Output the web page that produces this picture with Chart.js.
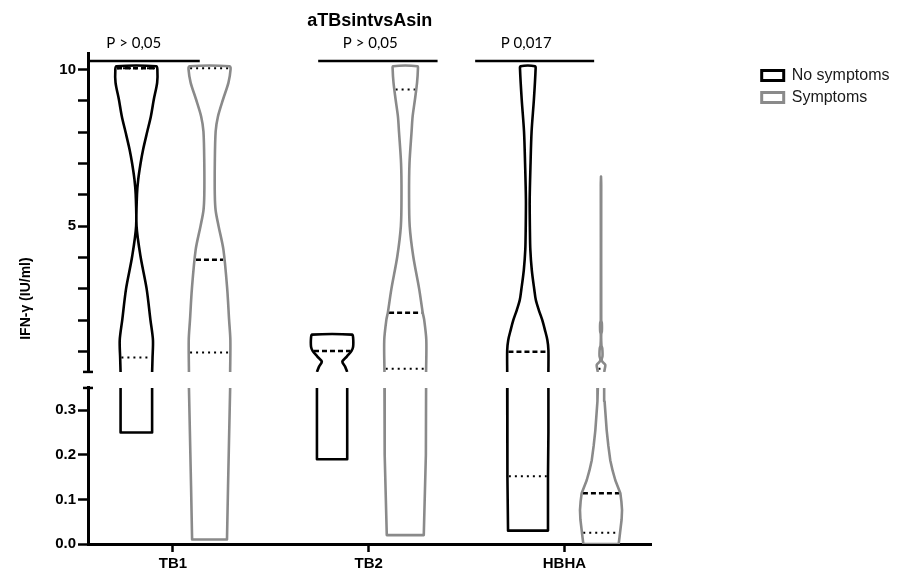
<!DOCTYPE html>
<html>
<head>
<meta charset="utf-8">
<title>aTBsintvsAsin</title>
<script src="https://cdn.jsdelivr.net/npm/chart.js@4.4.0/dist/chart.umd.min.js"></script>
<style>
    body { margin: 0; background: #fff; }
    #chart-container { width: 919px; height: 575px; }
</style>
</head>
<body>
<div id="chart-container"><canvas id="violin-chart" width="919" height="575"></canvas></div>
<script>
// Groups on the x axis and the two series
const groups = ['TB1', 'TB2', 'HBHA'];
const series = ['No symptoms', 'Symptoms'];

// Violin outlines, top to bottom: [IFN-γ (IU/ml), relative width]
const tb1No = [[10.1, 0.95], [10.0, 1.0], [9.58, 0.99], [9.04, 0.83], [8.5, 0.69], [8.02, 0.52], [7.44, 0.32], [7.0, 0.2], [6.49, 0.09], [6.0, 0.03], [5.0, 0.01], [4.03, 0.2], [3.0, 0.49], [2.01, 0.67], [1.37, 0.79], [0.8, 0.77], [0.35, 0.75], [0.25, 0.75]];
const tb1Sym = [[10.1, 0.96], [10.0, 1.0], [9.58, 0.9], [9.04, 0.64], [8.5, 0.4], [8.02, 0.29], [7.0, 0.25], [6.0, 0.25], [5.5, 0.29], [5.0, 0.43], [4.25, 0.66], [3.0, 0.84], [2.01, 0.93], [1.37, 0.99], [0.35, 0.98], [0.13, 0.88], [0.01, 0.83]];
const tb2No = [[1.54, 0.95], [1.45, 1.0], [1.15, 1.0], [1.02, 0.92], [0.84, 0.7], [0.68, 0.49], [0.52, 0.62], [0.35, 0.72], [0.19, 0.72]];
const tb2Sym = [[10.1, 0.58], [10.0, 0.6], [9.58, 0.56], [9.04, 0.46], [8.5, 0.35], [8.02, 0.3], [7.0, 0.2], [6.0, 0.18], [5.0, 0.21], [4.03, 0.38], [3.0, 0.66], [2.24, 0.83], [2.01, 0.9], [1.37, 1.0], [0.35, 0.99], [0.2, 0.98], [0.02, 0.88]];
const hbhaNo = [[10.1, 0.35], [10.0, 0.37], [9.04, 0.29], [8.02, 0.18], [7.0, 0.13], [5.85, 0.09], [4.9, 0.1], [4.25, 0.12], [3.6, 0.19], [2.97, 0.31], [2.65, 0.38], [2.33, 0.52], [2.0, 0.69], [1.7, 0.81], [1.37, 0.93], [1.05, 0.98], [0.35, 0.98], [0.25, 0.98], [0.15, 0.96], [0.03, 0.94]];
const hbhaSym = [[6.58, 0.0], [6.3, 0.01], [2.0, 0.01], [1.9, 0.04], [1.65, 0.04], [1.55, 0.01], [1.2, 0.02], [1.1, 0.06], [0.85, 0.07], [0.75, 0.03], [0.68, 0.06], [0.58, 0.2], [0.45, 0.18], [0.35, 0.15], [0.32, 0.17], [0.255, 0.27], [0.22, 0.35], [0.188, 0.44], [0.165, 0.55], [0.143, 0.68], [0.114, 0.92], [0.095, 0.97], [0.076, 1.0], [0.055, 0.98], [0.031, 0.92], [0.015, 0.88], [0.0, 0.84]];

// Medians (dashed) and quartiles (dotted), one per group
const medianNo = [10.04, 1.02, 0.99];
const medianSym = [3.93, 2.24, 0.114];
const q1No = [0.81, null, 0.152];
const q1Sym = [0.97, 0.45, 0.025];
const q3No = [10.04, null, null];
const q3Sym = [10.04, 9.36, 0.45];

// Significance bars
const pLabels = ['P > 0,05', 'P > 0,05', 'P 0,017'];
const pFrom = [0.566, 1.742, 2.544];
const pTo = [1.137, 2.352, 3.152];
const pTextAt = [0.8, 2.008, 2.805];
const pLevel = 10.27;

// Broken y axis
const axisBreak = 0.35;
const upperTicks = [1, 2, 3, 4, 5, 6, 7, 8, 9, 10];
const upperLabels = [5, 10];
const lowerTicks = [0, 0.1, 0.2, 0.3];

document.addEventListener('DOMContentLoaded', function() {
    const colors = ['#000000', '#8a8a8a'];
    const HALF = 0.1074;     // x units for a violin of relative width 1
    const OFFSET = 0.187;    // distance of each violin from the group centre
    const INSET = 0.0064;

    Chart.defaults.font.family = "'Liberation Sans', Arial, sans-serif";
    Chart.defaults.color = '#000';

    const profiles = [[tb1No, tb1Sym], [tb2No, tb2Sym], [hbhaNo, hbhaSym]];
    const medians = [medianNo, medianSym];
    const q1s = [q1No, q1Sym];
    const q3s = [q3No, q3Sym];

    // width of a violin at a value
    function widthAt(profile, v) {
        for (let i = 0; i < profile.length - 1; i++) {
            const [v0, d0] = profile[i];
            const [v1, d1] = profile[i + 1];
            if (v <= v0 && v >= v1) {
                return v0 === v1 ? Math.max(d0, d1) : d0 + (d1 - d0) * (v0 - v) / (v0 - v1);
            }
        }
        return 0;
    }

    // open outline: left side along part, then right side back
    function outline(part, c) {
        const left = part.map(([v, d]) => ({ x: c - d * HALF, y: v }));
        const right = part.map(([v, d]) => ({ x: c + d * HALF, y: v }));
        return left.concat(right.reverse());
    }

    const datasets = [];

    profiles.forEach((pair, g) => {
        pair.forEach((profile, s) => {
            const c = g + 1 + (s === 0 ? -OFFSET : OFFSET);
            const upper = profile.filter(p => p[0] >= axisBreak).reverse();
            const lower = profile.filter(p => p[0] <= axisBreak);

            datasets.push({
                label: series[s],
                data: outline(upper, c),
                yAxisID: 'yUp',
                borderColor: colors[s],
                borderWidth: 2.6,
                tension: 0.3,
                borderJoinStyle: 'round'
            });
            datasets.push({
                label: series[s],
                data: outline(lower, c),
                yAxisID: 'yLow',
                borderColor: colors[s],
                borderWidth: 2.6,
                tension: 0,
                borderJoinStyle: 'round'
            });

            const stat = (value, dash, width) => {
                if (value === null) return;
                const hw = Math.max(widthAt(profile, value) * HALF - INSET, 0.01);
                datasets.push({
                    data: [{ x: c - hw, y: value }, { x: c + hw, y: value }],
                    yAxisID: value >= axisBreak ? 'yUp' : 'yLow',
                    borderColor: '#000',
                    borderWidth: width,
                    borderDash: dash,
                    tension: 0
                });
            };
            stat(q3s[s][g], [2, 4], 2);
            stat(q1s[s][g], [2, 4], 2);
            stat(medians[s][g], [5, 3], 2.5);
        });
    });

    // significance bars
    pLabels.forEach((label, i) => {
        datasets.push({
            data: [{ x: pFrom[i], y: pLevel }, { x: pTo[i], y: pLevel }],
            yAxisID: 'yUp',
            borderColor: '#000',
            borderWidth: 2.6,
            tension: 0
        });
    });

    // p-value text and the little caps at the axis break
    const annotations = {
        id: 'annotations',
        afterDraw(chart) {
            const { ctx } = chart;
            const x = chart.scales.x;
            const yUp = chart.scales.yUp;
            const yLow = chart.scales.yLow;
            ctx.save();
            ctx.fillStyle = '#000';
            ctx.font = '15px Lato';
            ctx.textAlign = 'center';
            ctx.textBaseline = 'alphabetic';
            pLabels.forEach((label, i) => {
                ctx.fillText(label, x.getPixelForValue(pTextAt[i]), yUp.getPixelForValue(pLevel) - 13);
            });
            ctx.strokeStyle = '#000';
            ctx.lineWidth = 2.5;
            [yUp.bottom, yLow.top].forEach(py => {
                ctx.beginPath();
                ctx.moveTo(yUp.right - 5, py);
                ctx.lineTo(yUp.right + 5, py);
                ctx.stroke();
            });
            ctx.restore();
        }
    };

    const tickFont = { size: 15, weight: 'bold' };
    const axisGrid = { drawOnChartArea: false, tickLength: 10, tickWidth: 2.5, tickColor: '#000' };
    const axisBorder = { color: '#000', width: 3 };
    const hidden = {
        grid: { display: false },
        border: { display: false },
        ticks: { display: false }
    };

    new Chart(document.getElementById('violin-chart').getContext('2d'), {
        type: 'line',
        data: { datasets: datasets },
        options: {
            responsive: false,
            animation: false,
            events: [],
            layout: { padding: { left: 0, right: 19.5, top: 0, bottom: 0 } },
            elements: {
                point: { radius: 0 },
                line: { fill: false }
            },
            plugins: {
                title: {
                    display: true,
                    text: 'aTBsintvsAsin',
                    fullSize: false,
                    color: '#000',
                    font: { size: 18, weight: 'bold' },
                    padding: { top: 10, bottom: 21.5 }
                },
                legend: {
                    position: 'right',
                    align: 'start',
                    fullSize: false,
                    maxWidth: 220,
                    title: { display: true, text: '', padding: 0, font: { size: 7 } },
                    labels: {
                        boxWidth: 22,
                        boxHeight: 10,
                        padding: 6,
                        color: '#1a1a1a',
                        font: { size: 16 },
                        generateLabels: () => series.map((name, i) => ({
                            text: name,
                            fillStyle: '#fff',
                            strokeStyle: colors[i],
                            lineWidth: 3,
                            hidden: false,
                            fontColor: '#1a1a1a'
                        }))
                    }
                },
                tooltip: { enabled: false }
            },
            scales: {
                x: {
                    type: 'linear',
                    min: 0.566,
                    max: 3.446,
                    afterBuildTicks: s => { s.ticks = groups.map((g, i) => ({ value: i + 1 })); },
                    afterFit: s => { s.height = 31; },
                    ticks: {
                        callback: v => groups[v - 1],
                        font: tickFont,
                        color: '#000',
                        padding: 3,
                        autoSkip: false,
                        maxRotation: 0
                    },
                    grid: { drawOnChartArea: false, tickLength: 8, tickWidth: 2.5, tickColor: '#000' },
                    border: axisBorder
                },
                yTitle: Object.assign({
                    type: 'linear',
                    position: 'left',
                    weight: 10,
                    afterFit: s => { s.width = 38; },
                    title: {
                        display: true,
                        text: 'IFN-γ (IU/ml)',
                        color: '#000',
                        font: { size: 14, weight: 'bold' },
                        padding: { top: 18, bottom: 0 }
                    }
                }, hidden),
                yUp: {
                    type: 'linear',
                    position: 'left',
                    stack: 'y',
                    stackWeight: 318.7,
                    weight: 3,
                    min: axisBreak,
                    max: 10.52,
                    afterBuildTicks: s => { s.ticks = upperTicks.map(v => ({ value: v })); },
                    afterFit: s => { s.width = 50; },
                    ticks: {
                        callback: v => upperLabels.includes(v) ? String(v) : '',
                        font: tickFont,
                        color: '#000',
                        padding: 2,
                        autoSkip: false
                    },
                    grid: axisGrid,
                    border: axisBorder
                },
                yGap: Object.assign({
                    type: 'linear',
                    position: 'left',
                    stack: 'y',
                    stackWeight: 16,
                    weight: 2,
                    afterFit: s => { s.width = 50; }
                }, hidden),
                yLow: {
                    type: 'linear',
                    position: 'left',
                    stack: 'y',
                    stackWeight: 156,
                    weight: 1,
                    min: 0,
                    max: axisBreak,
                    afterBuildTicks: s => { s.ticks = lowerTicks.map(v => ({ value: v })); },
                    afterFit: s => { s.width = 50; },
                    ticks: {
                        callback: v => v.toFixed(1),
                        font: tickFont,
                        color: '#000',
                        padding: 2,
                        autoSkip: false
                    },
                    grid: axisGrid,
                    border: axisBorder
                },
                ySpace: Object.assign({
                    type: 'linear',
                    position: 'right',
                    weight: 0,
                    afterFit: s => { s.width = 104; }
                }, hidden)
            }
        },
        plugins: [annotations]
    });
});
</script>
</body>
</html>
